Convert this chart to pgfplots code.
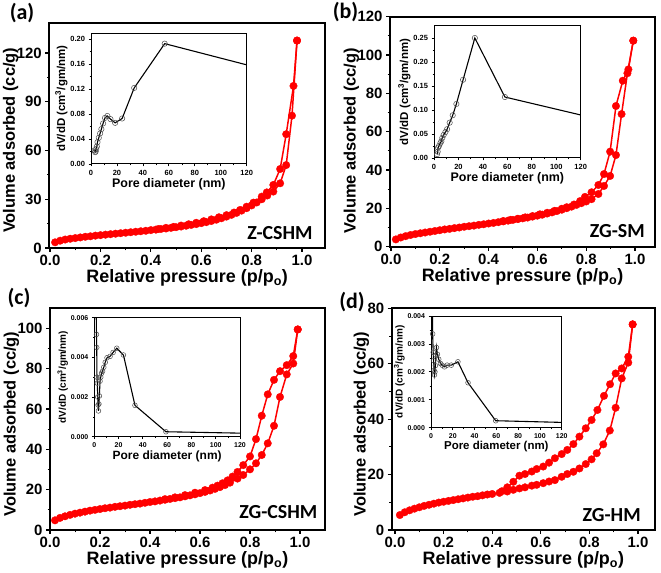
\documentclass[border=0pt]{standalone}
\usepackage{pgfplots}
\pgfplotsset{compat=1.18}
\usepackage{fontspec}
\setmainfont{Liberation Sans}
\newfontfamily\calfont{Carlito}
\pgfplotsset{
 mainax/.style={
   scale only axis, anchor=south west,
   axis line style={line width=1.8pt},
   tick pos=left, tick align=outside,
   major tick length=4pt, minor tick length=2.3pt,
   major tick style={line width=1.2pt, black},
   minor tick style={line width=1pt, black},
   minor tick num=1,
   /pgf/number format/assume math mode=true,
   tick label style={font=\fontsize{15}{17}\selectfont\bfseries},
   xlabel style={font=\fontsize{18}{20}\selectfont\bfseries, yshift=3pt},
   ylabel style={font=\fontsize{16.5}{19}\selectfont\bfseries, yshift=-5pt, xshift=-5pt, inner sep=0pt},
   xlabel={Relative pressure (p/p\textsubscript{o})},
   ylabel={Volume adsorbed (cc/g)},
   xtick={0,0.2,0.4,0.6,0.8,1.0},
   xticklabel style={/pgf/number format/.cd, fixed, fixed zerofill, precision=1},
 },
 iso/.style={red, line width=1.5pt, mark=*, mark size=3.8pt, mark options={solid, fill=red, draw=red, line width=0.3pt}},
 inset/.style={
   scale only axis, anchor=south west,
   axis background/.style={fill=white},
   axis line style={line width=1pt},
   tick pos=left, tick align=outside,
   major tick length=2.5pt, minor tick length=1.5pt,
   major tick style={line width=0.8pt, black},
   minor tick style={line width=0.6pt, black},
   /pgf/number format/assume math mode=true,
   scaled y ticks=false,
   tick label style={font=\fontsize{7.5}{8}\selectfont\bfseries},
   xlabel style={font=\fontsize{12.5}{13}\selectfont\bfseries, yshift=4pt},
   ylabel style={font=\fontsize{11.5}{12}\selectfont\bfseries, yshift=-4pt},
   xlabel={Pore diameter (nm)},
   ylabel={dV/dD (cm\textsuperscript{3}/gm/nm)},
   xmin=0, xmax=120, xtick={0,20,40,60,80,100,120}, minor x tick num=1, ymin=0,
 },
 psd/.style={black, line width=1.1pt, mark=o, mark size=2.7pt, mark options={solid, fill=white, draw=black!70, line width=0.5pt}},
}
\begin{document}
\begin{tikzpicture}
\path[use as bounding box] (0,0) rectangle (661bp,573bp);

% ---------------- (a)
\begin{axis}[mainax, at={(49.3bp,325bp)}, width=275.7bp, height=225.3bp,
  xmin=-0.003, xmax=1.091, ymin=0, ymax=138.6, ytick={0,30,60,90,120}]
\addplot[iso] coordinates {(0.02,3.5)(0.04,4.5)(0.06,5.2)(0.08,5.7)(0.10,6.1)(0.12,6.5)(0.14,6.9)(0.16,7.2)(0.18,7.6)(0.20,7.9)(0.22,8.2)(0.24,8.5)(0.26,8.8)(0.28,9.1)(0.30,9.4)(0.32,9.7)(0.34,10.0)(0.36,10.3)(0.38,10.6)(0.40,11.0)(0.42,11.3)(0.44,11.7)(0.46,12.0)(0.48,12.4)(0.50,12.8)(0.52,13.2)(0.54,13.7)(0.56,14.2)(0.58,14.7)(0.60,15.3)(0.62,15.9)(0.64,16.6)(0.66,17.4)(0.68,18.3)(0.70,19.3)(0.72,20.4)(0.74,21.6)(0.76,23.0)(0.78,24.5)(0.80,26.2)(0.82,28.0)(0.84,30.0)(0.862,32.3)(0.886,34.7)(0.913,39.8)(0.937,51)(0.96,81.4)(0.98,127.6)};
\addplot[iso] coordinates {(0.98,127.6)(0.966,99.7)(0.937,70)(0.913,48.6)(0.886,38.8)(0.86,34.2)(0.84,31.6)(0.807,27.9)(0.78,25.4)(0.754,23.4)(0.73,21.8)(0.70,20.2)(0.67,18.9)(0.64,17.6)(0.61,16.5)(0.58,15.5)(0.55,14.6)(0.52,13.8)(0.49,13.0)(0.46,12.4)(0.43,11.7)};
\end{axis}

% ---------------- (b)
\begin{axis}[mainax, at={(390bp,326.3bp)}, width=265bp, height=230bp,
  xmin=-0.004, xmax=1.082, ymin=0, ymax=120, ytick={0,20,40,60,80,100,120},
  ylabel style={xshift=-4pt}]
\addplot[iso] coordinates {(0.02,3.8)(0.04,4.8)(0.06,5.5)(0.08,6.1)(0.10,6.6)(0.12,7.0)(0.14,7.4)(0.16,7.8)(0.18,8.2)(0.20,8.6)(0.22,9.0)(0.24,9.3)(0.26,9.7)(0.28,10.0)(0.30,10.4)(0.32,10.7)(0.34,11.0)(0.36,11.4)(0.38,11.7)(0.40,12.1)(0.42,12.4)(0.44,12.8)(0.46,13.2)(0.48,13.6)(0.50,14.0)(0.52,14.4)(0.54,14.8)(0.56,15.2)(0.58,15.7)(0.60,16.2)(0.62,16.7)(0.64,17.3)(0.66,17.9)(0.68,18.6)(0.70,19.3)(0.72,20.1)(0.74,20.9)(0.76,21.8)(0.78,22.7)(0.80,23.6)(0.822,24.8)(0.85,27.5)(0.873,31.7)(0.898,36.9)(0.922,47.8)(0.945,69.2)(0.969,90.5)(0.993,107.5)};
\addplot[iso] coordinates {(0.993,107.5)(0.973,92.5)(0.950,86.6)(0.922,73.4)(0.898,49.6)(0.873,37.9)(0.850,32.2)(0.822,28.4)(0.795,26.0)(0.775,23.8)(0.75,22.0)(0.72,20.6)(0.70,19.8)(0.67,18.7)(0.64,17.7)(0.61,16.9)(0.58,16.0)(0.55,15.3)(0.52,14.6)(0.49,14.0)(0.46,13.4)};
\end{axis}

% ---------------- (c)
\begin{axis}[mainax, at={(50bp,43bp)}, width=275bp, height=221.7bp,
  xmin=0, xmax=1.1, ymin=0, ymax=110, ytick={0,20,40,60,80,100}]
\addplot[iso] coordinates {(0.02,4.8)(0.04,6.0)(0.06,6.8)(0.08,7.5)(0.10,8.1)(0.12,8.6)(0.14,9.1)(0.16,9.6)(0.18,10.0)(0.20,10.4)(0.22,10.8)(0.24,11.1)(0.26,11.5)(0.28,11.8)(0.30,12.1)(0.32,12.5)(0.34,12.8)(0.36,13.1)(0.38,13.5)(0.40,13.9)(0.42,14.2)(0.44,14.6)(0.46,15.0)(0.48,15.4)(0.50,15.8)(0.52,16.2)(0.54,16.7)(0.56,17.2)(0.58,17.7)(0.60,18.3)(0.62,18.9)(0.64,19.6)(0.66,20.4)(0.68,21.3)(0.70,22.3)(0.72,23.5)(0.75,25.5)(0.773,27.3)(0.80,30.1)(0.824,33.1)(0.847,37.2)(0.871,43)(0.896,51.7)(0.92,66)(0.947,77.2)(0.973,82.6)(0.991,99.5)};
\addplot[iso] coordinates {(0.991,99.5)(0.973,86.3)(0.947,81.8)(0.92,78.8)(0.896,74.5)(0.871,67.3)(0.847,56.7)(0.824,45.1)(0.80,36.5)(0.773,32.2)(0.75,28.8)(0.73,26.5)(0.71,24.6)(0.69,23.2)(0.67,22.0)(0.65,21.0)(0.62,19.8)(0.58,18.5)(0.54,17.3)(0.50,16.2)(0.46,15.3)};
\end{axis}

% ---------------- (d)
\begin{axis}[mainax, at={(391.7bp,43bp)}, width=263.3bp, height=221.7bp,
  xmin=-0.0136, xmax=1.07, ymin=0, ymax=80, ytick={0,20,40,60,80}]
\addplot[iso] coordinates {(0.02,5.4)(0.04,6.4)(0.06,7.1)(0.08,7.7)(0.10,8.2)(0.12,8.7)(0.14,9.1)(0.16,9.5)(0.18,9.9)(0.20,10.2)(0.22,10.5)(0.24,10.8)(0.26,11.1)(0.28,11.4)(0.30,11.7)(0.32,12.0)(0.34,12.2)(0.36,12.5)(0.38,12.8)(0.40,13.0)(0.43,13.4)(0.462,13.9)(0.487,14.5)(0.512,15.0)(0.535,15.4)(0.563,16.0)(0.583,16.3)(0.61,16.9)(0.634,17.5)(0.658,18.0)(0.686,19.2)(0.709,20.2)(0.734,21.0)(0.759,22.2)(0.785,23.8)(0.809,25.5)(0.83,27.7)(0.857,30.9)(0.884,35.9)(0.908,44.1)(0.933,54.7)(0.96,60.4)(0.978,74.2)};
\addplot[iso] coordinates {(0.978,74.2)(0.96,62.5)(0.933,58.3)(0.908,56.5)(0.885,52.6)(0.86,48.4)(0.833,43.3)(0.809,39.7)(0.785,36.7)(0.759,33.7)(0.734,31.0)(0.709,28.9)(0.686,27.4)(0.658,25.9)(0.634,24.3)(0.61,22.9)(0.583,22.0)(0.563,21.1)(0.535,20.2)(0.512,19.6)(0.487,17.4)(0.462,15.4)(0.44,14.0)};
\end{axis}

% ---------------- insets
\begin{axis}[inset, at={(91bp,409bp)}, width=155.7bp, height=130.7bp,
  ymax=0.2096, ytick={0,0.04,0.08,0.12,0.16,0.20}, minor y tick num=1,
  yticklabel style={/pgf/number format/.cd, fixed, fixed zerofill, precision=2}]
\addplot[psd] coordinates {(2.8,0.022)(3.2,0.019)(3.6,0.020)(4.0,0.024)(4.5,0.028)(5.0,0.035)(6.0,0.042)(7.0,0.049)(8.0,0.056)(9.3,0.065)(10.8,0.074)(12.6,0.077)(15.0,0.072)(18.6,0.066)(24.0,0.073)(33.3,0.122)(56.8,0.193)(130,0.1536)};
\end{axis}

\begin{axis}[inset, at={(434bp,415bp)}, width=146.7bp, height=132bp,
  ymax=0.275, ytick={0,0.05,0.10,0.15,0.20,0.25}, minor y tick num=1,
  yticklabel style={/pgf/number format/.cd, fixed, fixed zerofill, precision=2}]
\addplot[psd] coordinates {(2.5,0.008)(3.0,0.013)(3.3,0.0215)(4.1,0.025)(5.2,0.031)(6.0,0.035)(6.8,0.042)(7.9,0.048)(9.3,0.054)(10.7,0.060)(12.8,0.0736)(15.3,0.089)(18.3,0.1125)(23.8,0.163)(33.4,0.250)(58,0.127)(130,0.0836)};
\end{axis}

\begin{axis}[inset, at={(94.3bp,136.3bp)}, width=145.7bp, height=119bp,
  ymax=0.006, ytick={0,0.002,0.004,0.006}, minor y tick num=1,
  tick label style={font=\fontsize{7}{8}\selectfont\bfseries},
  ylabel style={font=\fontsize{10}{11}\selectfont\bfseries},
  xlabel style={font=\fontsize{12}{13}\selectfont\bfseries},
  yticklabel style={/pgf/number format/.cd, fixed, fixed zerofill, precision=3}]
\addplot[psd, mark size=2.4pt] coordinates {(1.0,0.0090)(1.8,0.00516)(2.0,0.00450)(2.2,0.00300)(2.5,0.00270)(2.8,0.00200)(3.1,0.00160)(3.4,0.00130)(3.8,0.00165)(4.2,0.00205)(4.7,0.00280)(5.3,0.00300)(6.0,0.00320)(6.8,0.00330)(7.8,0.00350)(9.0,0.00375)(10.5,0.00398)(13,0.00405)(15.5,0.00425)(18.5,0.00446)(24,0.00412)(33.5,0.00158)(59,0.00025)(130,0.000168)};
\end{axis}

\begin{axis}[inset, at={(431bp,145.3bp)}, width=130.7bp, height=111.7bp,
  ymax=0.004, ytick={0,0.001,0.002,0.003,0.004}, minor y tick num=1,
  tick label style={font=\fontsize{7}{8}\selectfont\bfseries},
  ylabel style={font=\fontsize{10}{11}\selectfont\bfseries},
  xlabel style={font=\fontsize{11.5}{12}\selectfont\bfseries},
  yticklabel style={/pgf/number format/.cd, fixed, fixed zerofill, precision=3}]
\addplot[psd, mark size=2.4pt] coordinates {(0.8,0.0060)(1.5,0.00336)(2.0,0.00270)(2.4,0.00240)(2.8,0.00205)(3.2,0.00189)(3.6,0.00200)(4.0,0.00222)(4.5,0.00260)(5.0,0.00287)(5.9,0.00263)(7.1,0.00245)(8.7,0.00230)(10.2,0.00224)(12.4,0.00218)(14.8,0.00224)(18.6,0.00224)(24.7,0.00236)(34,0.00161)(59.4,0.00025)(130,0.00018)};
\end{axis}

% ---------------- labels
\begin{scope}[every node/.style={font=\calfont\bfseries\fontsize{20}{22}\selectfont}]
\node at (280bp,340.3bp) {Z-CSHM};
\node at (617.3bp,342.3bp) {ZG-SM};
\node at (278.3bp,61.3bp) {ZG-CSHM};
\node at (611.7bp,58bp) {ZG-HM};
\end{scope}
\begin{scope}[every node/.style={font=\calfont\bfseries\fontsize{22}{24}\selectfont}]
\node at (22bp,560bp) {(a)};
\node at (345.5bp,560.5bp) {(b)};
\node at (19bp,275bp) {(c)};
\node at (352bp,271bp) {(d)};
\end{scope}
\end{tikzpicture}
\end{document}
